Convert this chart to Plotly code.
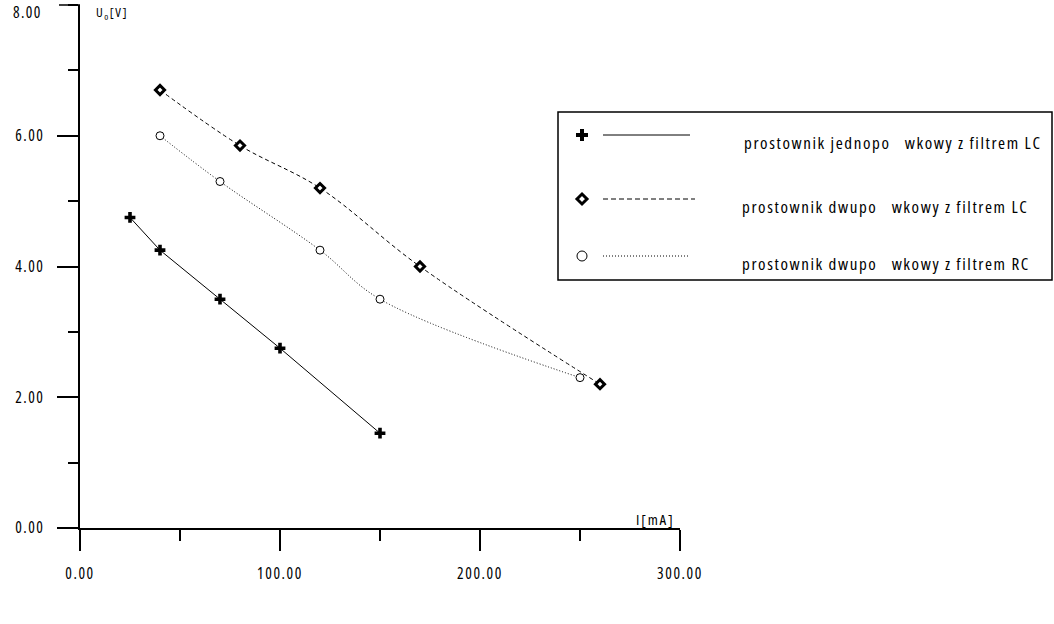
import plotly.graph_objects as go

# --- data ---
x_jedno_lc = [25, 40, 70, 100, 150]
u_jedno_lc = [4.75, 4.25, 3.5, 2.75, 1.45]

x_dwu_lc = [40, 80, 120, 170, 260]
u_dwu_lc = [6.7, 5.85, 5.2, 4.0, 2.2]

x_dwu_rc = [40, 70, 120, 150, 250]
u_dwu_rc = [6.0, 5.3, 4.25, 3.5, 2.3]

x_ticks = [0, 100, 200, 300]
x_tick_labels = ["0.00", "100.00", "200.00", "300.00"]
y_ticks = [0, 2, 4, 6, 8]
y_tick_labels = ["0.00", "2.00", "4.00", "6.00", "8.00"]

legend_labels = [
    "prostownik jednopo\u00a0\u00a0\u00a0wkowy z filtrem LC",
    "prostownik dwupo\u00a0\u00a0\u00a0wkowy z filtrem LC",
    "prostownik dwupo\u00a0\u00a0\u00a0wkowy z filtrem RC",
]

FONT = "Open Sans, sans-serif"
W, H = 1054, 624
ML, MR, MT, MB = 80, 374, 5, 96
PW, PH = W - ML - MR, H - MT - MB


def spaced(s, ls):
    # narrow, letter-spaced look of the original plotter font
    return f"<span style='font-stretch:75%;letter-spacing:{ls}px'>{s}</span>"


def fx(px):
    return (px - ML) / PW


def fy(py):
    return (H - MB - py) / PH


fig = go.Figure()

fig.add_trace(go.Scatter(
    x=x_jedno_lc, y=u_jedno_lc, mode="lines+markers",
    line=dict(color="black", width=1),
    marker=dict(symbol="cross", size=9, color="black", line=dict(width=0)),
    cliponaxis=False, showlegend=False,
))
fig.add_trace(go.Scatter(
    x=x_dwu_lc, y=u_dwu_lc, mode="lines+markers",
    line=dict(color="black", width=1, dash="4px,3px", shape="spline"),
    marker=dict(symbol="diamond", size=7, color="white", line=dict(width=3, color="black")),
    cliponaxis=False, showlegend=False,
))
fig.add_trace(go.Scatter(
    x=x_dwu_rc, y=u_dwu_rc, mode="lines+markers",
    line=dict(color="black", width=1, dash="1px,2px", shape="spline"),
    marker=dict(symbol="circle", size=8, color="white", line=dict(width=1, color="black")),
    cliponaxis=False, showlegend=False,
))

# --- hand-made legend (box, line samples, symbols, labels) ---
shapes = [dict(type="rect", xref="paper", yref="paper",
               x0=fx(558), x1=fx(1052), y0=fy(112), y1=fy(280),
               line=dict(color="black", width=1.5))]
# major tick at the top of the y axis (its label is placed separately below)
shapes.append(dict(type="line", xref="paper", yref="paper",
                   x0=fx(59), x1=0, y0=1, y1=1, line=dict(color="black", width=1.5)))
rows = [135, 199, 256]
dashes = ["solid", "5px,3px", "1px,2px"]
line_ends = [690, 695, 690]
for ry, d, le in zip(rows, dashes, line_ends):
    shapes.append(dict(type="line", xref="paper", yref="paper",
                       x0=fx(603), x1=fx(le), y0=fy(ry), y1=fy(ry),
                       line=dict(color="black", width=1, dash=d)))
cx = 582
# plus
r, t = 6, 2
cy = rows[0]
pts = [(-t, -r), (t, -r), (t, -t), (r, -t), (r, t), (t, t), (t, r), (-t, r),
       (-t, t), (-r, t), (-r, -t), (-t, -t)]
path = "M" + " L".join(f"{fx(cx + a)},{fy(cy + b)}" for a, b in pts) + " Z"
shapes.append(dict(type="path", xref="paper", yref="paper", path=path,
                   fillcolor="black", line=dict(width=0)))
# diamond
cy = rows[1]
d = 5
pts = [(0, -d), (d, 0), (0, d), (-d, 0)]
path = "M" + " L".join(f"{fx(cx + a)},{fy(cy + b)}" for a, b in pts) + " Z"
shapes.append(dict(type="path", xref="paper", yref="paper", path=path,
                   fillcolor="white", line=dict(width=3, color="black")))
# circle
cy = rows[2]
rr = 5
shapes.append(dict(type="circle", xref="paper", yref="paper",
                   x0=fx(cx - rr), x1=fx(cx + rr), y0=fy(cy + rr), y1=fy(cy - rr),
                   fillcolor="white", line=dict(width=1, color="black")))

annotations = []
for ry, lab, lx in zip(rows, legend_labels, [742, 740, 740]):
    annotations.append(dict(
        xref="paper", yref="paper", x=fx(lx), y=fy(ry + 7),
        xanchor="left", yanchor="middle", showarrow=False,
        text=spaced(lab, 1.6), font=dict(family=FONT, size=17, color="black"),
    ))

# top y label sits a little below its tick in the original
annotations.append(dict(
    xref="paper", yref="paper", x=fx(44), y=fy(12), xanchor="right", yanchor="middle",
    showarrow=False, text=spaced(y_tick_labels[-1], 1.4),
    font=dict(family=FONT, size=15.5, color="black"),
))

# axis titles
annotations.append(dict(
    xref="paper", yref="paper", x=fx(94), y=fy(13), xanchor="left", yanchor="middle",
    showarrow=False, text=spaced("U<sub>o</sub>[V]", 1.5),
    font=dict(family=FONT, size=13, color="black"),
))
annotations.append(dict(
    xref="paper", yref="paper", x=fx(676), y=fy(519), xanchor="right", yanchor="middle",
    showarrow=False, text=spaced("I[mA]", 1.8),
    font=dict(family=FONT, size=15, color="black"),
))

fig.update_layout(
    width=W, height=H,
    margin=dict(l=ML, r=MR, t=MT, b=MB, autoexpand=False),
    plot_bgcolor="white", paper_bgcolor="white",
    showlegend=False,
    shapes=shapes,
    annotations=annotations,
    font=dict(family=FONT, color="black"),
)

fig.update_xaxes(
    range=[0, 300], showgrid=False, zeroline=False, automargin=False,
    showline=True, linecolor="black", linewidth=1.5,
    tickmode="array", tickvals=x_ticks,
    ticktext=[spaced(s, 1.6) for s in x_tick_labels],
    ticks="outside", ticklen=21, tickwidth=1.5, tickcolor="black",
    ticklabelstandoff=10, ticklabeloverflow="allow",
    tickfont=dict(family=FONT, size=15.5, color="black"),
    minor=dict(dtick=50, ticks="outside", ticklen=11, tickwidth=1.5, tickcolor="black"),
)
fig.update_yaxes(
    range=[0, 8], showgrid=False, zeroline=False, automargin=False,
    showline=True, linecolor="black", linewidth=1.5,
    tickmode="array", tickvals=y_ticks[:-1],
    ticktext=[spaced(s, 1.4) for s in y_tick_labels[:-1]],
    ticks="outside", ticklen=21, tickwidth=1.5, tickcolor="black",
    ticklabelstandoff=10, ticklabeloverflow="allow",
    tickfont=dict(family=FONT, size=15.5, color="black"),
    minor=dict(dtick=1, ticks="outside", ticklen=10, tickwidth=1.5, tickcolor="black"),
)

fig.write_html("out.html", config={"displayModeBar": False},
               post_script="document.body.style.margin='0px';")
